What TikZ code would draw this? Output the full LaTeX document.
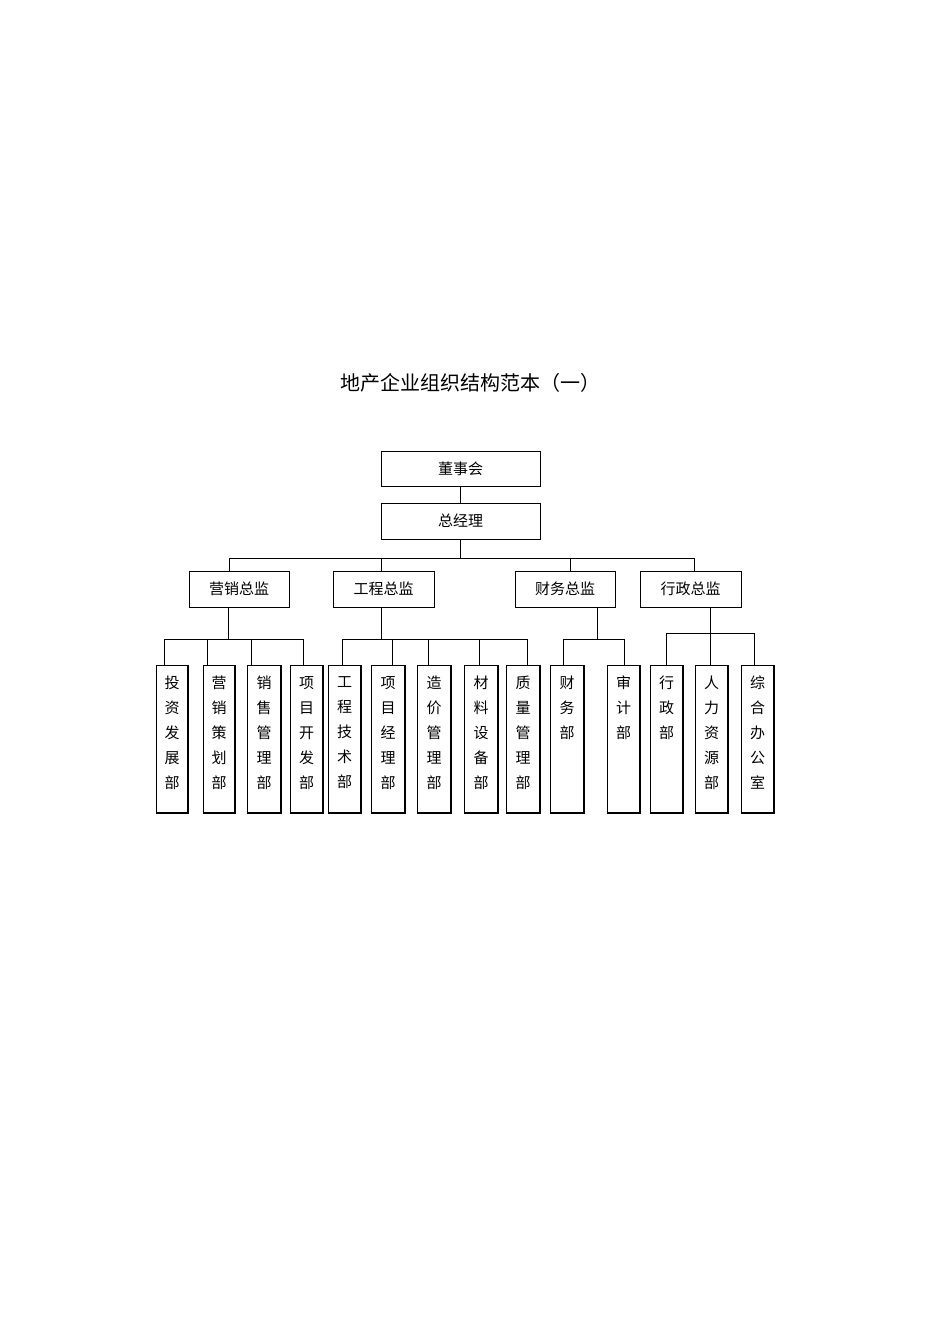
\documentclass[tikz,border=0pt]{standalone}
\usepackage{fontspec}
\newfontfamily\cjk{Noto Sans CJK SC}
\begin{document}
\begin{tikzpicture}[x=1pt,y=-1pt,
  bx/.style={draw,line width=0.8pt},
  ln/.style={line width=0.8pt},
  lbl/.style={font=\cjk\fontsize{15}{15}\selectfont},
  vt/.style={font=\cjk\fontsize{15}{25}\selectfont,align=center,anchor=north,inner sep=0pt}]
\useasboundingbox (0,0) rectangle (950,1344);
\node[font=\cjk\fontsize{20}{20}\selectfont] (title) at (470,383) {地产企业组织结构范本（一）};
\draw[bx] (381,451) rectangle (540,486) node[midway,lbl] (dsh) {董事会};
\draw[bx] (381,503) rectangle (540,539) node[midway,lbl] (zjl) {总经理};
\draw[ln] (460,486)--(460,503);
\draw[ln] (460,539)--(460,558);
\draw[ln] (229,571)--(229,558)--(694,558)--(694,571);
\draw[ln] (381,558)--(381,571); \draw[ln] (570,558)--(570,571);
\foreach \a/\b/\t in {189/289/营销总监,333/434/工程总监,515/615/财务总监,640/741/行政总监}{
  \draw[bx] (\a,571) rectangle (\b,607) node[midway,lbl] {\t};}
% sub buses
\draw[ln] (228,607)--(228,639); \draw[ln] (164,665)--(164,639)--(303,639)--(303,665);
\draw[ln] (207,639)--(207,665); \draw[ln] (251,639)--(251,665);
\draw[ln] (381,607)--(381,639); \draw[ln] (342,665)--(342,639)--(527,639)--(527,665);
\foreach \x in {392,428,479} \draw[ln] (\x,639)--(\x,665);
\draw[ln] (597,607)--(597,639); \draw[ln] (563,665)--(563,639)--(624,639)--(624,665);
\draw[ln] (710,607)--(710,665); \draw[ln] (666,665)--(666,633)--(754,633)--(754,665);
\foreach \a/\b/\t in {156/188/投\\资\\发\\展\\部,203/235/营\\销\\策\\划\\部,247/281/销\\售\\管\\理\\部,290/323/项\\目\\开\\发\\部,328/361/工\\程\\技\\术\\部,371/405/项\\目\\经\\理\\部,417/451/造\\价\\管\\理\\部,464/498/材\\料\\设\\备\\部,506/540/质\\量\\管\\理\\部,550/584/财\\务\\部,607/640/审\\计\\部,650/683/行\\政\\部,695/728/人\\力\\资\\源\\部,741/774/综\\合\\办\\公\\室}{
  \draw[bx] (\a,665) rectangle (\b,813);
  \draw[line width=1.6pt] (\a,813)--(\b,813)--(\b,665);
  \node[vt] at ({(\a+\b)/2},676) {\t};}
\end{tikzpicture}
\end{document}
